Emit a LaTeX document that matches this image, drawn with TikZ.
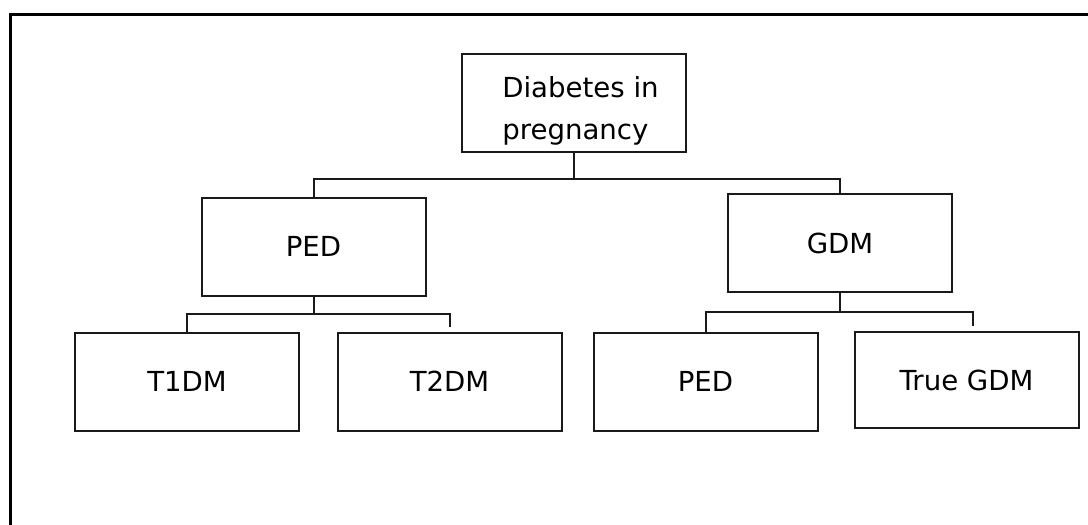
\documentclass[tikz,border=0pt]{standalone}
\usepackage{fontspec}
\setmainfont{DejaVu Sans}
\usepackage{tikz}
\usetikzlibrary{calc}
\definecolor{boxline}{HTML}{1A1A1A}

\begin{document}
\begin{tikzpicture}[x=0.5pt,y=-0.5pt,
  box/.style={draw=boxline,line width=1pt,inner sep=0pt,
    minimum width=112pt,minimum height=49pt,
    font=\fontsize{13.8}{21}\selectfont,align=left},
  link/.style={draw=boxline,line width=1pt}]
\useasboundingbox (0,0) rectangle (1088,525);
% frame
\draw[line width=1.5pt] (10,525) -- (10,14) -- (1088,14);

% boxes
\node[box,label={[font=\fontsize{13.8}{21}\selectfont,align=left,
    xshift=3.5pt,yshift=-4pt]center:Diabetes in\\pregnancy}]
  (dip) at (573.5,103) {};
\node[box] (ped) at (313.5,246.5) {PED};
\node[box] (gdm) at (840,243) {GDM};
\node[box] (tone) at (187,381.5) {T1DM};
\node[box] (ttwo) at (449.5,381.5) {T2DM};
\node[box] (pedb) at (705.5,381.5) {PED};
\node[box,minimum height=48pt] (tgdm) at (966.5,380) {True GDM};

% connectors
\coordinate (jtop) at ($(dip.south)+(0,26)$);
\draw[link] (dip.south) -- (jtop);
\draw[link] (jtop) -| (ped.north);
\draw[link] (jtop) -| (gdm.north);
\coordinate (jped) at ($(ped.south)+(0,17)$);
\draw[link] (ped.south) -- (jped);
\draw[link] (jped) -| (tone.north);
\draw[link,shorten >=2.5pt] (jped) -| (ttwo.north);
\coordinate (jgdm) at ($(gdm.south)+(0,19)$);
\draw[link] (gdm.south) -- (jgdm);
\draw[link] (jgdm) -| (pedb.north);
\draw[link,shorten >=2.5pt] (jgdm) -| ($(tgdm.north)+(6,0)$);
\end{tikzpicture}
\end{document}
